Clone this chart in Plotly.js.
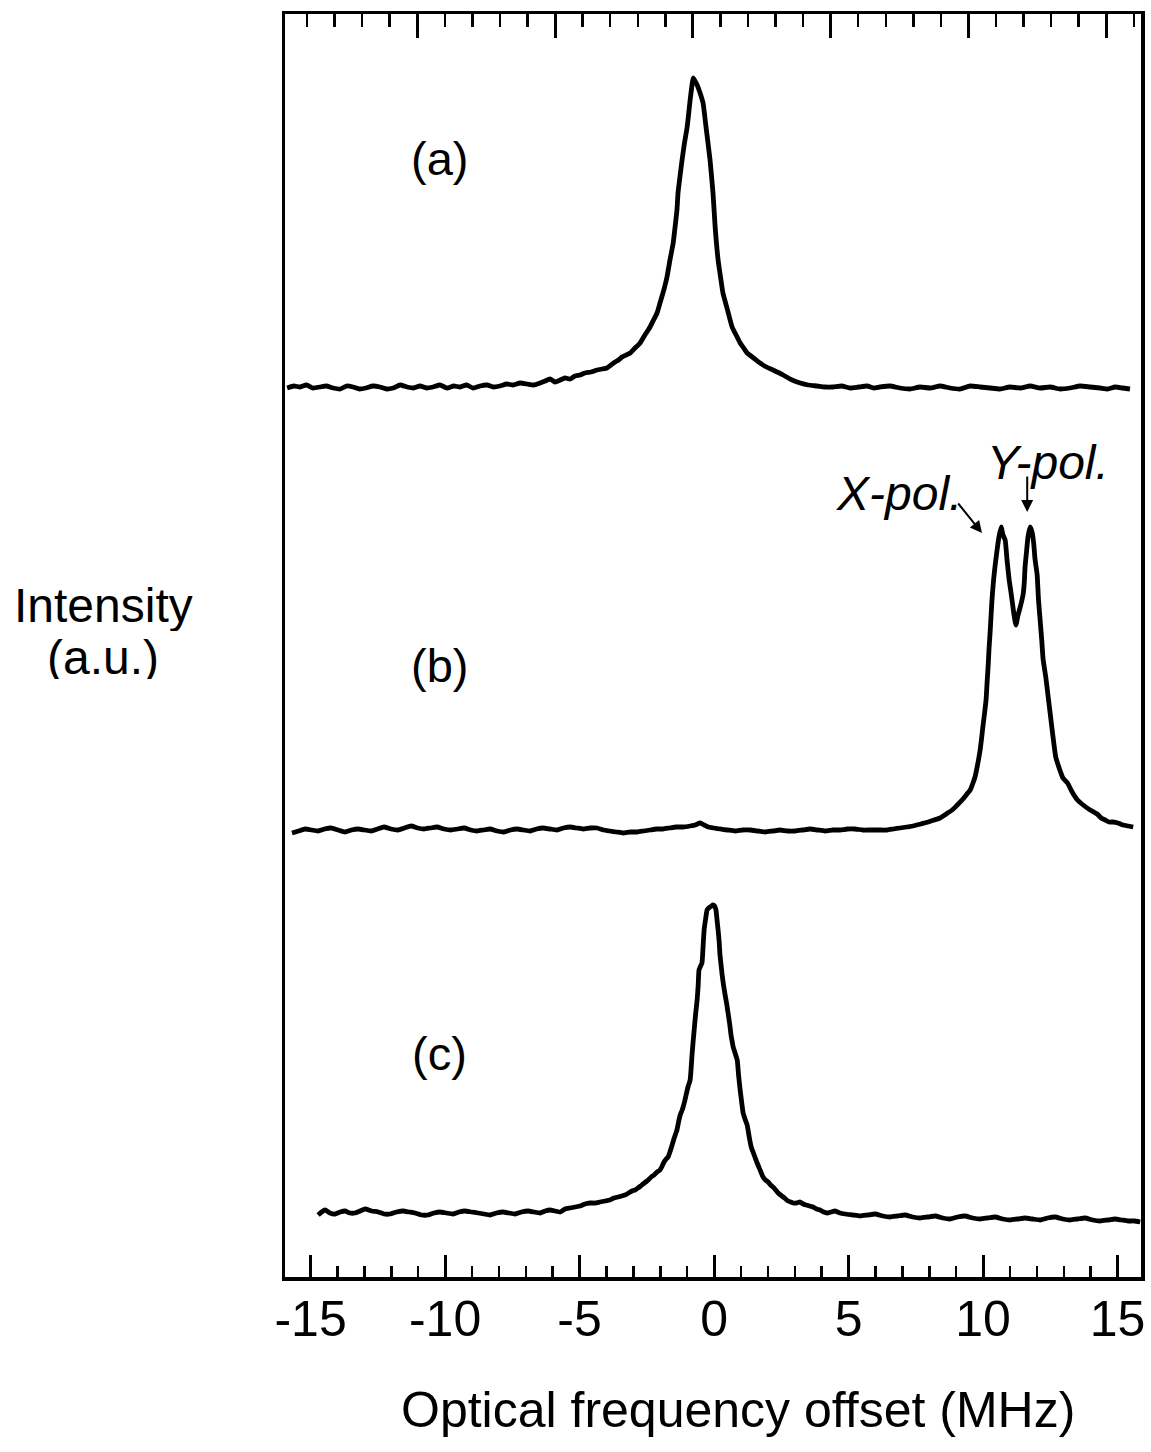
<!DOCTYPE html>
<html>
<head>
<meta charset="utf-8">
<script src="https://cdn.plot.ly/plotly-3.0.1.min.js"></script>
<style>html,body{margin:0;padding:0;background:#fff;}#chart{width:1151px;height:1452px;}</style>
</head>
<body>
<div id="chart"></div>
<script>
// Optical frequency offset (MHz) and intensity (a.u., traces stacked)
const xA = [-15.87,-15.62,-15.39,-15.15,-14.91,-14.66,-14.42,-14.16,-13.90,-13.66,-13.42,-13.18,-12.94,-12.68,-12.42,-12.17,-11.93,-11.67,-11.41,-11.17,-10.93,-10.69,-10.45,-10.19,-9.93,-9.68,-9.44,-9.20,-8.96,-8.70,-8.44,-8.20,-7.96,-7.71,-7.47,-7.21,-6.95,-6.71,-6.47,-6.28,-6.10,-5.91,-5.72,-5.54,-5.35,-5.17,-4.98,-4.80,-4.58,-4.35,-4.16,-3.98,-3.83,-3.68,-3.55,-3.42,-3.27,-3.12,-2.94,-2.75,-2.57,-2.38,-2.25,-2.12,-2.01,-1.90,-1.82,-1.75,-1.64,-1.52,-1.45,-1.38,-1.34,-1.27,-1.19,-1.10,-1.00,-0.89,-0.83,-0.78,-0.71,-0.63,-0.52,-0.41,-0.30,-0.15,-0.04,0.04,0.15,0.24,0.33,0.50,0.67,0.82,0.97,1.10,1.23,1.47,1.71,1.95,2.19,2.57,2.90,3.20,3.50,3.83,4.12,4.42,4.74,5.06,5.37,5.69,5.93,6.17,6.54,6.91,7.28,7.66,8.03,8.40,8.77,9.14,9.52,9.89,10.26,10.63,11.00,11.38,11.75,12.12,12.49,12.86,13.23,13.61,13.98,14.35,14.63,14.91,15.19,15.46];
const yA = [8.89,8.91,8.90,8.92,8.89,8.90,8.91,8.89,8.88,8.91,8.90,8.88,8.89,8.91,8.90,8.88,8.89,8.92,8.90,8.89,8.91,8.89,8.90,8.92,8.89,8.91,8.90,8.92,8.89,8.91,8.92,8.90,8.91,8.93,8.92,8.94,8.93,8.92,8.94,8.96,8.98,8.95,8.97,8.99,8.98,9.01,9.02,9.04,9.05,9.07,9.08,9.09,9.12,9.15,9.17,9.20,9.22,9.24,9.29,9.34,9.42,9.50,9.57,9.64,9.74,9.84,9.92,10.00,10.17,10.34,10.50,10.67,10.84,11.00,11.17,11.34,11.50,11.77,11.90,11.99,11.96,11.92,11.84,11.74,11.50,11.17,10.84,10.50,10.17,10.00,9.84,9.67,9.50,9.42,9.34,9.29,9.24,9.19,9.14,9.10,9.07,9.02,8.97,8.94,8.92,8.91,8.90,8.90,8.91,8.89,8.90,8.91,8.89,8.90,8.91,8.89,8.88,8.90,8.89,8.91,8.89,8.88,8.91,8.90,8.89,8.88,8.90,8.89,8.91,8.89,8.90,8.88,8.89,8.91,8.90,8.89,8.88,8.90,8.89,8.88,8.87];

const xB = [-15.69,-15.44,-15.20,-14.96,-14.72,-14.48,-14.24,-13.98,-13.72,-13.48,-13.23,-12.99,-12.75,-12.51,-12.27,-12.01,-11.75,-11.51,-11.26,-11.02,-10.78,-10.54,-10.30,-10.04,-9.78,-9.54,-9.29,-9.05,-8.81,-8.57,-8.33,-8.07,-7.81,-7.57,-7.32,-7.08,-6.84,-6.60,-6.36,-6.10,-5.84,-5.60,-5.35,-5.11,-4.87,-4.61,-4.35,-4.11,-3.87,-3.63,-3.38,-3.12,-2.86,-2.62,-2.38,-2.14,-1.90,-1.66,-1.41,-1.15,-0.89,-0.70,-0.52,-0.37,-0.22,0.00,0.22,0.50,0.78,1.06,1.34,1.62,1.90,2.18,2.45,2.73,3.01,3.29,3.57,3.85,4.13,4.41,4.68,4.96,5.24,5.52,5.80,6.12,6.43,6.67,6.91,7.16,7.40,7.68,7.96,8.18,8.40,8.63,8.85,9.04,9.22,9.37,9.52,9.61,9.70,9.80,9.89,9.95,10.00,10.06,10.11,10.15,10.19,10.22,10.26,10.33,10.39,10.45,10.52,10.59,10.67,10.74,10.82,10.89,10.97,11.04,11.10,11.15,11.22,11.30,11.40,11.49,11.53,11.56,11.62,11.67,11.75,11.82,11.88,11.93,12.01,12.06,12.12,12.18,12.23,12.33,12.42,12.51,12.60,12.70,12.79,12.88,12.97,13.14,13.31,13.51,13.72,13.98,14.24,14.39,14.54,14.68,14.83,15.01,15.20,15.39,15.58];
const yB = [4.44,4.46,4.48,4.47,4.46,4.48,4.49,4.47,4.45,4.47,4.48,4.47,4.46,4.48,4.50,4.48,4.47,4.49,4.51,4.49,4.48,4.49,4.50,4.48,4.47,4.48,4.49,4.47,4.46,4.47,4.48,4.46,4.45,4.47,4.48,4.47,4.46,4.48,4.49,4.48,4.47,4.49,4.50,4.49,4.48,4.49,4.49,4.47,4.46,4.45,4.44,4.45,4.45,4.46,4.47,4.48,4.48,4.49,4.50,4.50,4.51,4.52,4.54,4.52,4.50,4.49,4.48,4.47,4.46,4.47,4.47,4.46,4.45,4.46,4.47,4.46,4.46,4.47,4.48,4.47,4.46,4.47,4.47,4.48,4.48,4.47,4.47,4.47,4.47,4.48,4.49,4.50,4.51,4.53,4.55,4.57,4.59,4.63,4.67,4.72,4.77,4.82,4.87,4.93,5.00,5.13,5.27,5.40,5.52,5.65,5.77,5.95,6.12,6.28,6.44,6.77,6.97,7.12,7.27,7.40,7.50,7.42,7.37,7.17,6.97,6.84,6.72,6.62,6.52,6.62,6.72,6.83,6.94,7.10,7.27,7.40,7.50,7.45,7.34,7.18,7.02,6.77,6.57,6.37,6.18,6.00,5.80,5.60,5.40,5.20,5.12,5.05,4.99,4.94,4.85,4.77,4.72,4.67,4.63,4.59,4.57,4.55,4.55,4.54,4.52,4.51,4.50,4.49];

const xC = [-14.72,-14.59,-14.46,-14.28,-14.09,-13.90,-13.72,-13.54,-13.35,-13.16,-12.97,-12.73,-12.49,-12.27,-12.04,-11.80,-11.56,-11.34,-11.12,-10.88,-10.63,-10.41,-10.19,-9.95,-9.70,-9.48,-9.26,-9.02,-8.77,-8.55,-8.33,-8.09,-7.84,-7.62,-7.40,-7.16,-6.91,-6.69,-6.47,-6.28,-6.10,-5.91,-5.72,-5.54,-5.35,-5.17,-4.98,-4.80,-4.61,-4.42,-4.24,-4.05,-3.87,-3.72,-3.57,-3.44,-3.31,-3.18,-3.05,-2.94,-2.83,-2.73,-2.64,-2.54,-2.45,-2.34,-2.23,-2.12,-2.01,-1.93,-1.86,-1.78,-1.71,-1.63,-1.56,-1.47,-1.38,-1.32,-1.26,-1.20,-1.15,-1.09,-1.04,-0.97,-0.89,-0.85,-0.82,-0.78,-0.74,-0.69,-0.63,-0.59,-0.56,-0.50,-0.45,-0.41,-0.37,-0.32,-0.26,-0.20,-0.15,-0.09,-0.04,0.02,0.07,0.11,0.15,0.19,0.22,0.26,0.30,0.35,0.41,0.47,0.52,0.58,0.63,0.67,0.71,0.78,0.86,0.91,0.97,1.02,1.08,1.15,1.23,1.30,1.38,1.49,1.60,1.71,1.82,1.91,2.01,2.10,2.19,2.29,2.38,2.47,2.57,2.66,2.75,2.85,2.94,3.07,3.20,3.31,3.42,3.55,3.68,3.81,3.94,4.07,4.20,4.35,4.50,4.68,4.87,5.15,5.43,5.71,5.99,6.27,6.54,6.82,7.10,7.38,7.66,7.94,8.22,8.50,8.77,9.05,9.33,9.61,9.89,10.17,10.45,10.73,11.00,11.28,11.56,11.84,12.12,12.40,12.68,12.96,13.23,13.51,13.79,14.07,14.35,14.63,14.91,15.15,15.39,15.62,15.84];
const yC = [0.62,0.65,0.67,0.64,0.63,0.65,0.66,0.64,0.64,0.66,0.68,0.66,0.65,0.63,0.63,0.65,0.66,0.65,0.64,0.62,0.62,0.64,0.65,0.64,0.63,0.65,0.66,0.65,0.64,0.63,0.62,0.64,0.65,0.64,0.63,0.65,0.66,0.65,0.64,0.66,0.67,0.66,0.65,0.68,0.69,0.70,0.71,0.73,0.74,0.74,0.75,0.76,0.77,0.79,0.80,0.81,0.82,0.84,0.86,0.87,0.89,0.91,0.93,0.95,0.97,1.00,1.02,1.05,1.07,1.11,1.15,1.18,1.20,1.26,1.32,1.40,1.47,1.55,1.62,1.66,1.70,1.76,1.82,1.90,1.97,2.10,2.22,2.35,2.47,2.62,2.77,2.92,3.07,3.11,3.14,3.30,3.47,3.57,3.67,3.69,3.70,3.71,3.72,3.71,3.67,3.57,3.47,3.35,3.22,3.12,3.02,2.92,2.82,2.73,2.64,2.53,2.42,2.36,2.30,2.24,2.17,2.02,1.87,1.76,1.64,1.58,1.52,1.41,1.30,1.22,1.14,1.07,1.00,0.97,0.95,0.92,0.90,0.87,0.84,0.82,0.80,0.78,0.76,0.75,0.74,0.74,0.75,0.73,0.72,0.71,0.70,0.68,0.67,0.65,0.64,0.65,0.66,0.64,0.63,0.62,0.61,0.62,0.63,0.61,0.60,0.61,0.62,0.60,0.59,0.60,0.61,0.59,0.58,0.60,0.61,0.59,0.58,0.59,0.60,0.58,0.57,0.58,0.59,0.58,0.57,0.59,0.60,0.58,0.57,0.58,0.59,0.57,0.56,0.57,0.58,0.57,0.56,0.56,0.55];

const traceLabels = ["(a)", "(b)", "(c)"];
const xTickVals = [-15, -10, -5, 0, 5, 10, 15];
const xTickText = ["-15", "-10", "-5", "0", "5", "10", "15"];

const FONT = "Liberation Sans, Arial, Helvetica, sans-serif";
const lineStyle = {color: "#000", width: 4.8, shape: "spline", smoothing: 0.5};

const traces = [
  {x: xA, y: yA, mode: "lines", line: lineStyle, hoverinfo: "skip", showlegend: false},
  {x: xB, y: yB, mode: "lines", line: lineStyle, hoverinfo: "skip", showlegend: false},
  {x: xC, y: yC, mode: "lines", line: lineStyle, hoverinfo: "skip", showlegend: false},
  {x: [], y: [], xaxis: "x2", mode: "lines", hoverinfo: "skip", showlegend: false}
];

const bigFont = {family: FONT, size: 50, color: "#000"};
const sideFont = {family: FONT, size: 48, color: "#000"};
const labelFont = {family: FONT, size: 47, color: "#000"};
const italicFont = {family: FONT, size: 48, color: "#000", style: "italic"};

const layout = {
  width: 1151, height: 1452,
  margin: {l: 285, r: 10, t: 14, b: 175},
  paper_bgcolor: "#fff", plot_bgcolor: "#fff",
  font: {family: FONT, color: "#000"},
  xaxis: {
    range: [-15.95, 15.87], showgrid: false, zeroline: false,
    showline: true, linecolor: "#000", linewidth: 3.5,
    ticks: "inside", ticklen: 22, tickwidth: 3, tickcolor: "#000",
    tickvals: xTickVals, ticktext: xTickText,
    tickfont: bigFont,
    ticklabelstandoff: -5,
    minor: {dtick: 1, ticks: "inside", ticklen: 11, tickwidth: 2.5, tickcolor: "#000", showgrid: false}
  },
  xaxis2: {
    overlaying: "x", side: "top", anchor: "y",
    range: [-14.80, 16.26], showgrid: false, zeroline: false,
    showline: true, linecolor: "#000", linewidth: 3.5,
    ticks: "inside", ticklen: 24, tickwidth: 3, tickcolor: "#000",
    dtick: 5, tick0: 0, showticklabels: false,
    minor: {dtick: 1, ticks: "inside", ticklen: 13, tickwidth: 2.5, tickcolor: "#000", showgrid: false}
  },
  yaxis: {
    range: [0, 12.63], showgrid: false, zeroline: false,
    showline: true, mirror: true, linecolor: "#000", linewidth: 3.5,
    ticks: "", showticklabels: false
  },
  annotations: [
    {xref: "paper", yref: "paper", x: 0.529, y: -0.1053, xanchor: "center", yanchor: "middle", text: "Optical frequency offset (MHz)", showarrow: false, font: bigFont},
    {xref: "x", yref: "y", x: -10.19, y: 11.19, text: traceLabels[0], showarrow: false, font: labelFont},
    {xref: "x", yref: "y", x: -10.19, y: 6.12, text: traceLabels[1], showarrow: false, font: labelFont},
    {xref: "x", yref: "y", x: -10.19, y: 2.24, text: traceLabels[2], showarrow: false, font: labelFont},
    {xref: "paper", yref: "y", x: -0.2115, y: 6.72, xanchor: "center", yanchor: "middle", height: 52, valign: "middle", text: "Intensity", showarrow: false, font: sideFont},
    {xref: "paper", yref: "y", x: -0.2125, y: 6.20, xanchor: "center", yanchor: "middle", height: 44, valign: "middle", text: "(a.u.)", showarrow: false, font: sideFont},
    {xref: "x", yref: "y", x: 6.88, y: 7.84, xanchor: "center", text: "X-pol.", showarrow: false, font: italicFont},
    {xref: "x", yref: "y", x: 12.42, y: 8.15, xanchor: "center", text: "Y-pol.", showarrow: false, font: italicFont},
    {xref: "x", yref: "y", x: 9.96, y: 7.44, axref: "x", ayref: "y", ax: 9.03, ay: 7.75, text: "",
     showarrow: true, arrowhead: 2, arrowsize: 1.2, arrowwidth: 2, arrowcolor: "#000"},
    {xref: "x", yref: "y", x: 11.64, y: 7.65, axref: "x", ayref: "y", ax: 11.64, ay: 8.02, text: "",
     showarrow: true, arrowhead: 2, arrowsize: 1.2, arrowwidth: 2, arrowcolor: "#000"}
  ]
};

Plotly.newPlot("chart", traces, layout, {staticPlot: true, displayModeBar: false});
</script>
</body>
</html>
